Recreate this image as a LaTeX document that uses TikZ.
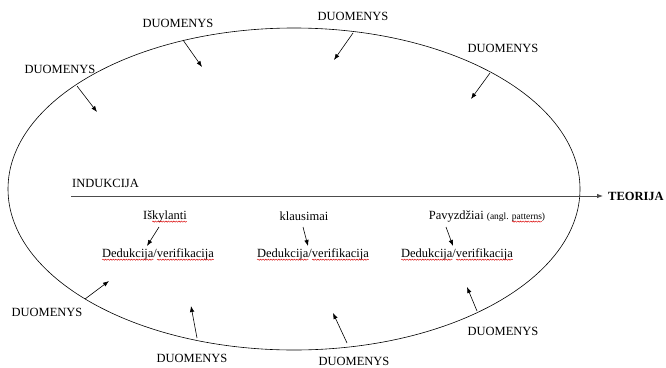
\documentclass[tikz,border=0pt]{standalone}
\usepackage{fontspec}
\setmainfont{Liberation Serif}
\usetikzlibrary{arrows.meta,decorations.pathmorphing}
\newsavebox\wavebox
\newlength\wavelen
\newcommand\redwave[1]{\sbox\wavebox{#1}\setlength\wavelen{\wd\wavebox}%
  \rlap{\usebox\wavebox}%
  \tikz[baseline=0pt,x=1pt,y=1pt]{\path[use as bounding box] (0,0) rectangle (\wavelen,1);
    \draw[red!85!black, line width=0.45pt, decorate, decoration={snake,amplitude=0.6pt,segment length=2.6pt}] (0,-2.6) -- (\wavelen,-2.6);}}
\tikzset{
  lbl/.style={inner sep=0pt, font=\fontsize{12.5}{14}\selectfont},
  arr/.style={-{Latex[length=6pt,width=4.5pt]}, line width=0.6pt},
  oval/.style={draw, line width=0.6pt},
}
\begin{document}
\begin{tikzpicture}[x=1pt,y=-1pt]
\useasboundingbox (0,0) rectangle (666,367);
\draw[oval] (294,189) ellipse [x radius=286, y radius=161];
% horizontal axis
\node[lbl, anchor=west] (ind) at (72,183) {INDUKCIJA};
\coordinate (axs) at (71,196);
\node[lbl, anchor=west, font=\fontsize{12.5}{14}\selectfont\bfseries] (teo) at (608,196) {TEORIJA};
\draw[arr, line width=0.8pt, draw=black!70] (axs) -- ([xshift=-5pt]teo.west);
% top DUOMENYS
\node[lbl] (d1) at (60,69) {DUOMENYS};
\coordinate (d1a) at (77,86); \coordinate (d1b) at (97,112);
\draw[arr] (d1a) -- (d1b);
\node[lbl] (d2) at (178,23) {DUOMENYS};
\coordinate (d2a) at (183,40); \coordinate (d2b) at (202,67);
\draw[arr] (d2a) -- (d2b);
\node[lbl] (d3) at (353,16) {DUOMENYS};
\coordinate (d3a) at (353,33); \coordinate (d3b) at (334,60);
\draw[arr] (d3a) -- (d3b);
\node[lbl] (d4) at (503,48) {DUOMENYS};
\coordinate (d4a) at (490,73); \coordinate (d4b) at (471,99);
\draw[arr] (d4a) -- (d4b);
% bottom DUOMENYS
\node[lbl] (d5) at (47,312) {DUOMENYS};
\coordinate (d5a) at (85,299); \coordinate (d5b) at (109,281);
\draw[arr] (d5a) -- (d5b);
\node[lbl] (d6) at (192,358) {DUOMENYS};
\coordinate (d6a) at (197,338); \coordinate (d6b) at (191,306);
\draw[arr] (d6a) -- (d6b);
\node[lbl] (d7) at (354,361) {DUOMENYS};
\coordinate (d7a) at (347,343); \coordinate (d7b) at (333,313);
\draw[arr] (d7a) -- (d7b);
\node[lbl] (d8) at (503,331) {DUOMENYS};
\coordinate (d8a) at (477,311); \coordinate (d8b) at (467,287);
\draw[arr] (d8a) -- (d8b);
% inner labels
\node[lbl] (s1) at (165,216) {Iš\redwave{kylanti}};
\node[lbl] (v1) at (158,254) {\redwave{Dedukcija}/\redwave{verifikacija}};
\coordinate (a1) at (159,227); \coordinate (b1) at (147,246);
\draw[arr] (a1) -- (b1);
\node[lbl] (s2) at (304,216) {klausimai};
\node[lbl] (v2) at (313,254) {\redwave{Dedukcija}/\redwave{verifikacija}};
\coordinate (a2) at (303,227); \coordinate (b2) at (308,246);
\draw[arr] (a2) -- (b2);
\node[lbl] (s3) at (487,216) {Pavyzdžiai {\fontsize{9.5}{11}\selectfont(angl. \redwave{patterns})}};
\node[lbl] (v3) at (457,254) {\redwave{Dedukcija}/\redwave{verifikacija}};
\coordinate (a3) at (446,227); \coordinate (b3) at (453,246);
\draw[arr] (a3) -- (b3);
\end{tikzpicture}
\end{document}
